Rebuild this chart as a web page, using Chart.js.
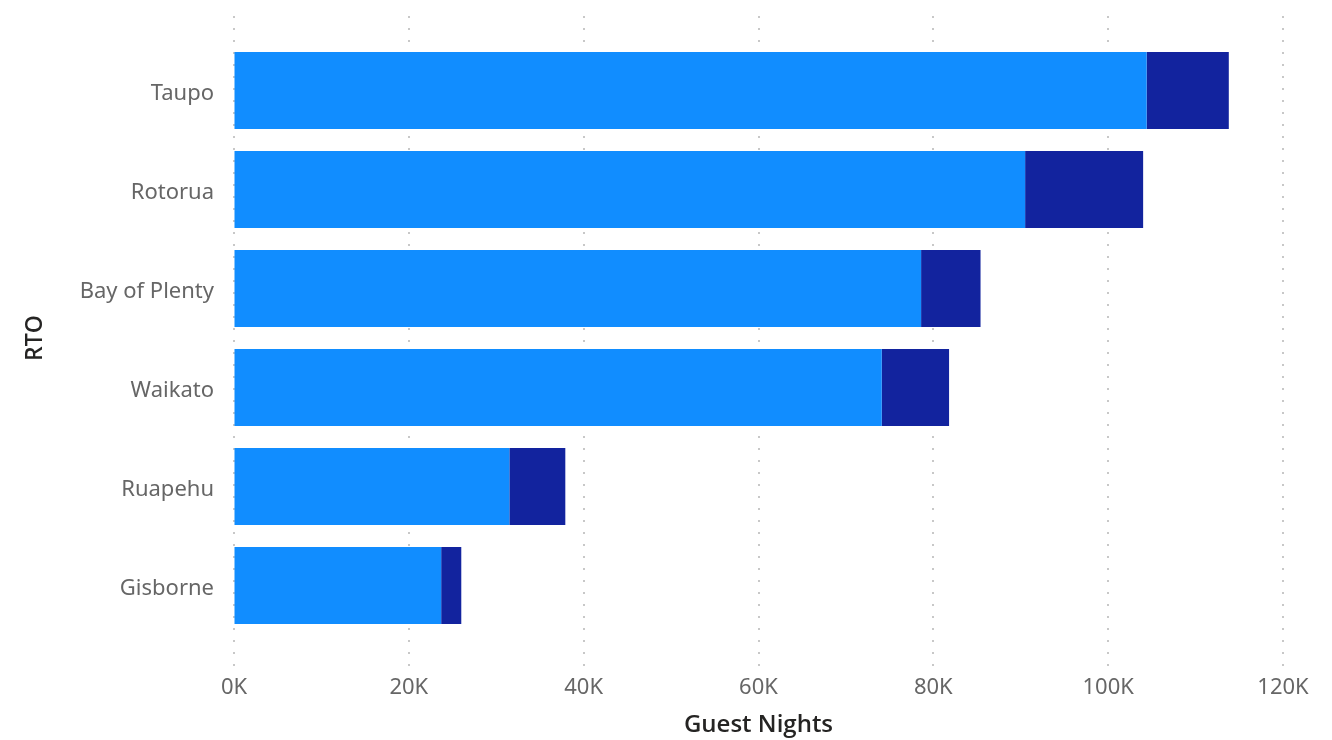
<!DOCTYPE html>
<html>
<head>
<meta charset="utf-8">
<script src="https://cdn.jsdelivr.net/npm/chart.js@4/dist/chart.umd.min.js"></script>
<style>
  html, body { margin: 0; padding: 0; background: #fff; }
  #wrap { width: 1332px; height: 740px; position: relative; }
</style>
</head>
<body>
<div id="wrap"><canvas id="chart" width="1332" height="740"></canvas></div>
<script>
// Datos (miles de noches)
const rtoNames = ['Taupo', 'Rotorua', 'Bay of Plenty', 'Waikato', 'Ruapehu', 'Gisborne'];
const domesticNights = [104400, 90500, 78600, 74100, 31500, 23700];
const internationalNights = [9400, 13500, 6800, 7700, 6400, 2300];
const xTicks = [0, 20000, 40000, 60000, 80000, 100000, 120000];

// Líneas de cuadrícula punteadas que sobresalen del área de barras
const dottedGrid = {
  id: 'dottedGrid',
  beforeDatasetsDraw(chart) {
    const ctx = chart.ctx;
    const x = chart.scales.x;
    ctx.save();
    ctx.fillStyle = '#c8c8c8';
    xTicks.forEach(v => {
      const px = Math.round(x.getPixelForValue(v));
      for (let y = 16; y <= 664; y += 12) {
        ctx.fillRect(px - 1, y, 2, 2);
      }
    });
    ctx.restore();
  }
};

const ctx = document.getElementById('chart').getContext('2d');
new Chart(ctx, {
  type: 'bar',
  data: {
    labels: rtoNames,
    datasets: [
      {
        label: 'Domestic',
        data: domesticNights,
        backgroundColor: '#118DFF',
        categoryPercentage: 1,
        barPercentage: 0.78
      },
      {
        label: 'International',
        data: internationalNights,
        backgroundColor: '#12239E',
        categoryPercentage: 1,
        barPercentage: 0.78
      }
    ]
  },
  options: {
    indexAxis: 'y',
    responsive: false,
    animation: false,
    layout: { padding: { top: 41, right: 49, left: 0, bottom: 0 } },
    plugins: { legend: { display: false }, tooltip: { enabled: false } },
    scales: {
      x: {
        stacked: true,
        min: 0,
        max: 120000,
        afterBuildTicks(scale) {
          scale.ticks = xTicks.map(v => ({ value: v }));
        },
        afterFit(scale) { scale.height = 105; },
        // marcas invisibles para separar las etiquetas sin ensanchar el margen derecho
        grid: { display: true, drawOnChartArea: false, drawTicks: true, tickLength: 34, tickColor: 'rgba(0,0,0,0)' },
        border: { display: false },
        ticks: {
          padding: 6,
          color: '#666666',
          font: { family: 'Noto Sans', size: 22 },
          callback: v => (v / 1000) + 'K'
        },
        title: {
          display: true,
          text: 'Guest Nights',
          color: '#252423',
          padding: { top: 3, bottom: 0 },
          font: { family: 'Open Sans', size: 24, weight: '600' }
        }
      },
      y: {
        stacked: true,
        afterFit(scale) { scale.width = 234; },
        grid: { display: false, drawTicks: false },
        border: { display: false },
        ticks: {
          padding: 20,
          labelOffset: 3,
          color: '#666666',
          font: { family: 'Noto Sans', size: 22 }
        },
        title: {
          display: true,
          text: 'RTO',
          color: '#252423',
          padding: { top: 22, bottom: 0 },
          font: { family: 'Open Sans', size: 23, weight: '600' }
        }
      }
    }
  },
  plugins: [dottedGrid]
});
</script>
</body>
</html>
